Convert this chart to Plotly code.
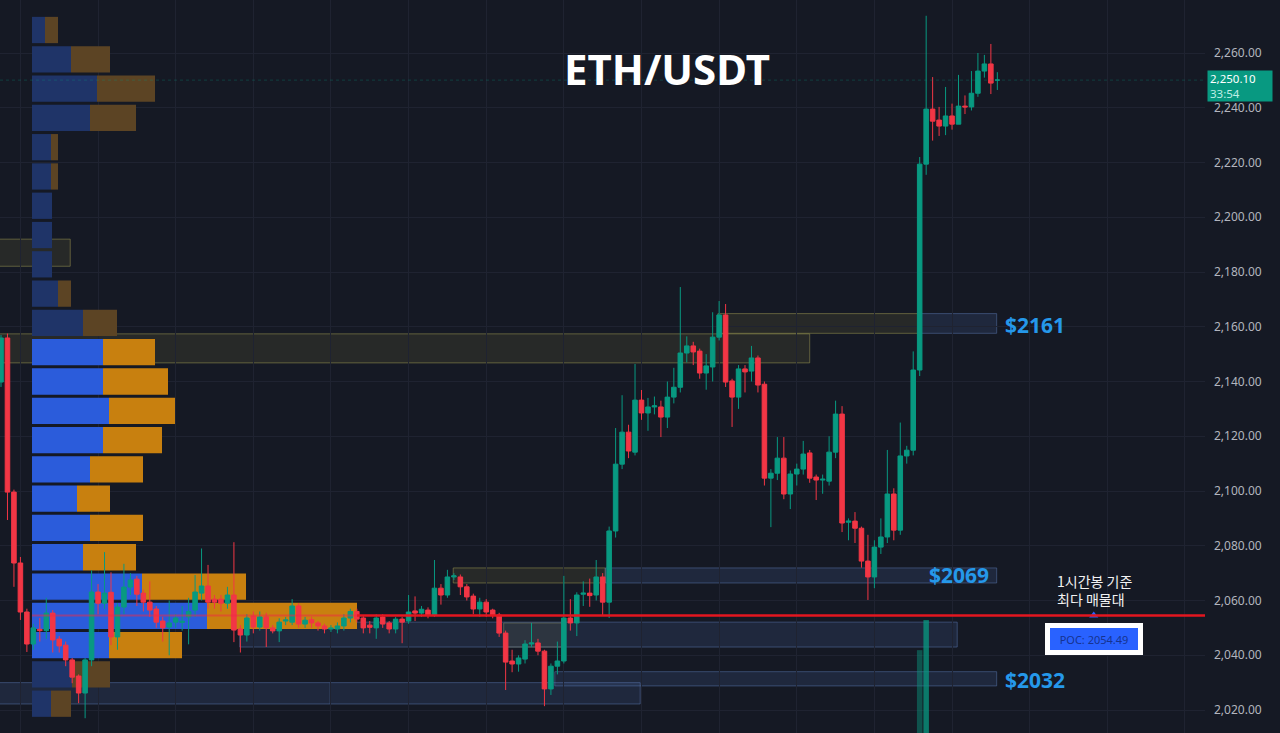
import plotly.graph_objects as go

BG = "#151924"
GRID = "#1f2331"
FG = "#b2b5be"
UP = "#089981"
DOWN = "#f23645"
LABEL_BLUE = "#2598ea"

# ---- 1h candles (index = bar number) ----
opens = [2139.8, 2155.9, 2099.6, 2073.7, 2055.8, 2044.1, 2049.5, 2049.0, 2055.4, 2045.9,
         2043.7, 2038.3, 2032.4, 2026.2, 2038.3, 2063.1, 2059.0, 2063.0, 2046.7, 2057.6,
         2064.9, 2067.8, 2062.7, 2059.4, 2056.9, 2052.5, 2050.3, 2052.1, 2052.0, 2054.0,
         2056.5, 2062.7, 2065.3, 2060.5, 2060.5, 2059.0, 2062.0, 2049.6, 2047.4, 2054.3,
         2050.3, 2054.0, 2050.0, 2048.9, 2052.5, 2052.1, 2058.0, 2051.4, 2053.0, 2051.8,
         2050.7, 2049.6, 2049.6, 2050.7, 2053.6, 2056.0, 2053.6, 2051.0, 2050.0, 2054.0,
         2051.8, 2049.6, 2053.2, 2052.5, 2056.2, 2055.4, 2056.5, 2054.7, 2064.5, 2062.0,
         2068.6, 2068.6, 2065.0, 2061.6, 2056.9, 2059.4, 2056.5, 2054.7, 2048.1, 2037.9,
         2036.8, 2038.6, 2044.1, 2044.5, 2041.5, 2027.7, 2036.0, 2037.9, 2053.6, 2051.8,
         2062.3, 2062.7, 2062.0, 2068.6, 2059.4, 2085.4, 2109.8, 2121.5, 2114.2, 2133.2,
         2128.5, 2130.7, 2130.7, 2127.0, 2134.3, 2137.9, 2150.4, 2153.0, 2151.1, 2143.1,
         2145.3, 2156.2, 2164.3, 2140.2, 2134.3, 2144.6, 2143.8, 2148.6, 2139.0, 2104.7,
         2106.5, 2112.0, 2098.9, 2106.2, 2108.0, 2113.9, 2105.1, 2104.0, 2103.6, 2114.2,
         2128.1, 2088.6, 2089.0, 2086.4, 2074.4, 2068.6, 2079.5, 2083.2, 2098.9, 2085.7,
         2112.8, 2114.9, 2144.2, 2219.4, 2239.5, 2235.5, 2233.3, 2237.0, 2234.0, 2240.6,
         2240.3, 2245.3, 2253.4, 2256.0, 2250.1]
highs = [2157.0, 2157.5, 2100.5, 2075.9, 2057.0, 2051.5, 2053.6, 2061.0, 2056.5, 2047.0,
         2045.0, 2039.0, 2033.0, 2039.0, 2071.0, 2066.0, 2077.7, 2070.3, 2059.0, 2073.4,
         2070.0, 2069.0, 2064.0, 2067.0, 2058.0, 2054.0, 2060.0, 2055.0, 2058.0, 2061.0,
         2069.3, 2079.0, 2073.0, 2062.0, 2062.0, 2065.0, 2081.3, 2051.0, 2055.0, 2056.0,
         2056.0, 2055.5, 2051.0, 2053.5, 2054.0, 2060.5, 2059.0, 2054.0, 2054.0, 2052.5,
         2051.5, 2051.0, 2052.0, 2055.0, 2057.0, 2057.0, 2054.5, 2052.5, 2055.0, 2055.0,
         2052.5, 2054.0, 2054.0, 2062.0, 2061.5, 2058.0, 2057.5, 2074.8, 2066.0, 2071.2,
         2070.0, 2069.5, 2066.0, 2062.5, 2061.0, 2060.5, 2057.0, 2055.5, 2049.0, 2042.0,
         2040.0, 2045.5, 2051.8, 2046.0, 2042.0, 2037.0, 2045.0, 2069.0, 2060.5, 2063.0,
         2067.0, 2068.0, 2074.8, 2070.0, 2087.0, 2123.0, 2135.0, 2124.2, 2146.4, 2136.9,
         2134.0, 2134.5, 2133.0, 2140.0, 2145.0, 2174.5, 2156.5, 2154.5, 2152.0, 2150.0,
         2165.3, 2169.4, 2168.3, 2141.0, 2146.0, 2146.0, 2153.0, 2149.5, 2140.0, 2108.0,
         2119.7, 2119.7, 2107.5, 2110.0, 2118.3, 2115.0, 2106.0, 2106.0, 2120.0, 2133.0,
         2131.0, 2090.0, 2092.3, 2087.0, 2084.0, 2082.0, 2090.0, 2115.0, 2101.0, 2125.0,
         2116.5, 2151.0, 2222.0, 2273.6, 2251.2, 2240.3, 2247.6, 2241.5, 2252.0, 2244.5,
         2253.4, 2260.0, 2259.3, 2263.3, 2253.0]
lows = [2138.0, 2089.4, 2065.0, 2052.9, 2041.2, 2042.0, 2045.0, 2046.0, 2041.0, 2041.0,
        2036.0, 2029.8, 2022.5, 2017.0, 2036.0, 2055.0, 2057.0, 2043.7, 2042.0, 2055.0,
        2062.0, 2058.0, 2056.0, 2054.0, 2050.0, 2045.0, 2040.0, 2050.0, 2049.0, 2044.0,
        2054.0, 2060.0, 2057.0, 2057.0, 2056.0, 2057.0, 2044.8, 2041.0, 2045.0, 2048.0,
        2049.0, 2043.0, 2048.0, 2044.8, 2051.0, 2051.0, 2050.0, 2050.0, 2050.0, 2049.0,
        2048.0, 2048.5, 2048.0, 2049.0, 2052.0, 2052.0, 2048.0, 2048.0, 2046.0, 2050.0,
        2048.0, 2048.0, 2044.4, 2051.5, 2052.5, 2054.0, 2053.5, 2054.0, 2058.5, 2061.0,
        2067.5, 2062.0, 2060.0, 2055.0, 2054.0, 2054.0, 2053.5, 2046.7, 2027.3, 2033.8,
        2034.0, 2037.0, 2043.0, 2040.0, 2021.4, 2025.5, 2033.0, 2037.0, 2049.0, 2047.0,
        2058.0, 2057.7, 2060.0, 2054.5, 2053.6, 2083.0, 2108.0, 2112.0, 2113.0, 2126.0,
        2122.0, 2128.0, 2119.7, 2123.0, 2132.0, 2136.0, 2147.0, 2146.0, 2141.0, 2137.0,
        2140.0, 2155.0, 2138.0, 2123.4, 2130.0, 2136.0, 2140.0, 2136.0, 2102.0, 2086.8,
        2104.0, 2097.0, 2093.4, 2102.0, 2106.0, 2103.0, 2096.7, 2099.0, 2102.0, 2112.0,
        2085.0, 2082.0, 2081.0, 2072.0, 2060.2, 2064.5, 2077.0, 2081.0, 2082.0, 2084.0,
        2110.0, 2113.0, 2142.0, 2215.5, 2228.0, 2229.7, 2230.0, 2232.0, 2234.0, 2237.7,
        2239.0, 2244.0, 2251.0, 2245.0, 2246.5]
closes = [2155.9, 2099.6, 2073.7, 2055.8, 2044.1, 2050.0, 2049.0, 2055.4, 2045.6, 2043.4,
          2038.3, 2032.0, 2026.2, 2038.3, 2063.1, 2059.0, 2062.7, 2046.7, 2057.6, 2064.9,
          2067.5, 2062.3, 2059.4, 2056.5, 2052.1, 2050.0, 2051.8, 2053.6, 2052.4, 2056.0,
          2063.1, 2065.3, 2059.4, 2059.4, 2059.0, 2062.0, 2049.2, 2047.4, 2053.6, 2050.3,
          2054.0, 2050.0, 2048.9, 2052.1, 2052.9, 2058.0, 2051.4, 2052.8, 2051.8, 2050.7,
          2049.6, 2049.9, 2050.7, 2053.6, 2056.0, 2053.2, 2050.0, 2050.2, 2053.6, 2051.4,
          2049.6, 2053.2, 2052.1, 2055.8, 2055.4, 2056.8, 2054.7, 2064.5, 2062.0, 2068.6,
          2069.0, 2065.0, 2061.3, 2056.9, 2059.4, 2055.8, 2054.7, 2048.1, 2037.5, 2036.8,
          2039.0, 2044.1, 2044.5, 2041.5, 2027.7, 2036.0, 2037.9, 2053.6, 2051.8, 2062.0,
          2062.7, 2061.8, 2068.6, 2059.4, 2085.4, 2109.8, 2121.5, 2114.6, 2133.2, 2128.5,
          2130.7, 2131.1, 2127.0, 2134.3, 2137.9, 2150.4, 2153.0, 2150.8, 2143.1, 2145.7,
          2156.2, 2164.3, 2139.8, 2134.3, 2144.6, 2143.5, 2148.6, 2138.7, 2104.7, 2106.5,
          2112.0, 2098.9, 2106.2, 2108.0, 2113.5, 2104.7, 2104.0, 2104.3, 2114.2, 2128.1,
          2088.3, 2089.0, 2086.4, 2074.4, 2068.6, 2079.5, 2083.2, 2098.9, 2085.7, 2112.8,
          2114.9, 2144.2, 2219.4, 2239.5, 2235.1, 2233.3, 2237.0, 2234.0, 2240.6, 2240.3,
          2245.3, 2253.4, 2256.0, 2249.0, 2250.1]
bars = list(range(len(closes)))

# volume pane: only the two spikes reach into view
vol_bars = [142, 143]
vol_vals = [113, 154]

# ---- volume profile (visible range) ----
vp_price = [2268.4, 2257.7, 2247.0, 2236.3, 2225.6, 2214.9, 2204.2, 2193.5, 2182.8, 2172.1,
            2161.4, 2150.7, 2140.0, 2129.3, 2118.6, 2107.9, 2097.2, 2086.5, 2075.8, 2065.1,
            2054.4, 2043.7, 2033.0, 2022.3]
vp_up = [1.3, 3.9, 6.5, 5.8, 1.9, 1.9, 2.0, 2.0, 2.0, 2.6, 5.1, 7.1, 7.1, 7.7, 7.1, 5.8,
         4.5, 5.8, 5.1, 11.0, 17.5, 7.7, 4.0, 1.9]
vp_down = [1.3, 3.9, 5.8, 4.6, 0.7, 0.7, 0.0, 0.0, 0.0, 1.3, 3.4, 5.2, 6.5, 6.6, 5.9, 5.3,
           3.3, 5.3, 5.3, 10.4, 15.0, 7.3, 3.8, 2.0]
value_area = range(11, 22)
POC = 2054.49
LAST = 2250.1

# ---- zones: (start bar, end bar, top, bottom) ----
olive_zones = [(-2, 10.7, 2192.0, 2182.1), (-2, 125.0, 2157.4, 2146.8),
               (69.9, 93.4, 2071.9, 2066.4), (77.7, 86.9, 2051.8, 2043.0),
               (110.8, 141.9, 2164.8, 2157.6)]
blue_zones = [(141.9, 153.9, 2164.8, 2157.6), (93.4, 153.9, 2071.9, 2066.4),
              (36.9, 147.8, 2052.1, 2043.0), (85.6, 153.9, 2034.0, 2028.8),
              (-2, 50.9, 2030.0, 2022.2), (50.9, 98.8, 2030.0, 2022.2)]
level_text = ["$2161", "$2069", "$2032"]
level_bar = [154.9, 143.1, 154.9]
level_price = [2160.6, 2069.3, 2030.8]

X_RANGE = [-0.155, 186.1]
VP_RANGE = [-3.2, 117.3]
Y_RANGE = [2011.6, 2279.36]

fig = go.Figure()

# volume profile on the base axes so candles sit on top of it
up_col = ["#2b5cdb" if k in value_area else "#1f3468" for k in range(len(vp_price))]
dn_col = ["#c8800f" if k in value_area else "#5c4424" for k in range(len(vp_price))]
fig.add_trace(go.Bar(y=vp_price, x=vp_up, base=0, orientation="h", width=9.6,
                     marker=dict(color=up_col, line=dict(width=0)),
                     xaxis="x", yaxis="y", hoverinfo="skip"))
fig.add_trace(go.Bar(y=vp_price, x=vp_down, base=vp_up, orientation="h", width=9.6,
                     marker=dict(color=dn_col, line=dict(width=0)),
                     xaxis="x", yaxis="y", hoverinfo="skip"))

fig.add_trace(go.Candlestick(
    x=bars, open=opens, high=highs, low=lows, close=closes,
    increasing=dict(line=dict(color=UP, width=1), fillcolor=UP),
    decreasing=dict(line=dict(color=DOWN, width=1), fillcolor=DOWN),
    whiskerwidth=0, xaxis="x2", yaxis="y", hoverinfo="skip"))

fig.add_trace(go.Bar(x=vol_bars, y=vol_vals, width=0.85,
                     marker=dict(color=["rgba(8,153,129,0.45)", "rgba(8,153,129,0.75)"],
                                 line=dict(width=0)),
                     xaxis="x2", yaxis="y2", hoverinfo="skip"))

# POC callout tip
fig.add_trace(go.Scatter(x=[168.9], y=[POC], mode="markers",
                         marker=dict(symbol="triangle-up", size=8, color="#2962ff"),
                         xaxis="x2", yaxis="y", hoverinfo="skip"))

for x0, x1, top, bot in olive_zones:
    fig.add_shape(type="rect", xref="x2", yref="y", x0=x0, x1=x1, y0=bot, y1=top,
                  fillcolor="rgba(120,118,60,0.18)",
                  line=dict(color="rgba(150,145,80,0.55)", width=1), layer="below")
for x0, x1, top, bot in blue_zones:
    fig.add_shape(type="rect", xref="x2", yref="y", x0=x0, x1=x1, y0=bot, y1=top,
                  fillcolor="rgba(70,95,150,0.22)",
                  line=dict(color="rgba(90,120,175,0.5)", width=1), layer="below")

poc_end = vp_up[20] + vp_down[20]
fig.add_shape(type="line", xref="x", yref="y", x0=0, x1=poc_end, y0=POC, y1=POC,
              line=dict(color="rgba(240,40,70,0.5)", width=2))
fig.add_shape(type="line", xref="x", yref="y", x0=poc_end, x1=VP_RANGE[1], y0=POC, y1=POC,
              line=dict(color="#e3161f", width=2.5))
fig.add_shape(type="line", xref="paper", yref="y", x0=0, x1=1, y0=LAST, y1=LAST,
              line=dict(color="rgba(8,153,129,0.3)", width=1, dash="dot"))

for t, xb, yp in zip(level_text, level_bar, level_price):
    fig.add_annotation(x=xb, y=yp, xref="x2", yref="y", text=f"<b>{t}</b>",
                       showarrow=False, xanchor="left", yanchor="middle",
                       font=dict(family="Noto Sans", size=21, color=LABEL_BLUE))

fig.add_annotation(x=0.5535, y=0.907, xref="paper", yref="paper", text="<b>ETH/USDT</b>",
                   showarrow=False, xanchor="center", yanchor="middle",
                   font=dict(family="Noto Sans", size=42, color="#ffffff"))

fig.add_annotation(x=162.9, y=2063.8, xref="x2", yref="y",
                   text="1시간봉 기준<br>최다 매물대", showarrow=False, align="left",
                   xanchor="left", yanchor="middle",
                   font=dict(family="Noto Sans CJK KR", size=14, color="#f2f2f2"))

fig.add_annotation(x=168.9, y=2045.9, xref="x2", yref="y", text=f"POC: {POC:.2f}",
                   showarrow=False, xanchor="center", yanchor="middle",
                   bgcolor="#2962ff", bordercolor="#ffffff", borderwidth=5, borderpad=1,
                   width=86, height=20,
                   font=dict(family="Noto Sans", size=11, color="#16338f"))

fig.add_annotation(x=1, y=LAST, xref="paper", yref="y", xanchor="left", yanchor="top",
                   xshift=2, yshift=10, showarrow=False, align="left",
                   text=f"{LAST:,.2f}<br><span style='color:#bfeee5'>33:54</span>",
                   bgcolor=UP, borderpad=2, width=60, height=26,
                   font=dict(family="Noto Sans", size=11.5, color="#ffffff"))

fig.update_layout(
    width=1280, height=733,
    paper_bgcolor=BG, plot_bgcolor=BG,
    margin=dict(l=0, r=75, t=0, b=0),
    showlegend=False, hovermode=False, barmode="overlay",
    boxgap=0.1, boxgroupgap=0.22,
    font=dict(family="Noto Sans, Liberation Sans, sans-serif", size=12, color=FG),
    xaxis=dict(range=VP_RANGE, visible=False, fixedrange=True),
    xaxis2=dict(range=X_RANGE, overlaying="x", tickvals=list(range(3, 187, 12)),
                showticklabels=False, showgrid=True, gridcolor=GRID, gridwidth=1,
                zeroline=False, showline=False, ticks="",
                rangeslider=dict(visible=False)),
    yaxis=dict(range=Y_RANGE, side="right", tickvals=list(range(2020, 2300, 20)),
               tickformat=",.2f", showgrid=True, gridcolor=GRID, zeroline=False,
               ticks="", ticklabelstandoff=8, tickfont=dict(size=12, color=FG)),
    yaxis2=dict(range=[0, 1000], overlaying="y", visible=False),
)

fig.write_html("out.html", config={"displayModeBar": False},
               post_script="document.body.style.margin='0';"
                           "document.body.style.background='#151924';")
